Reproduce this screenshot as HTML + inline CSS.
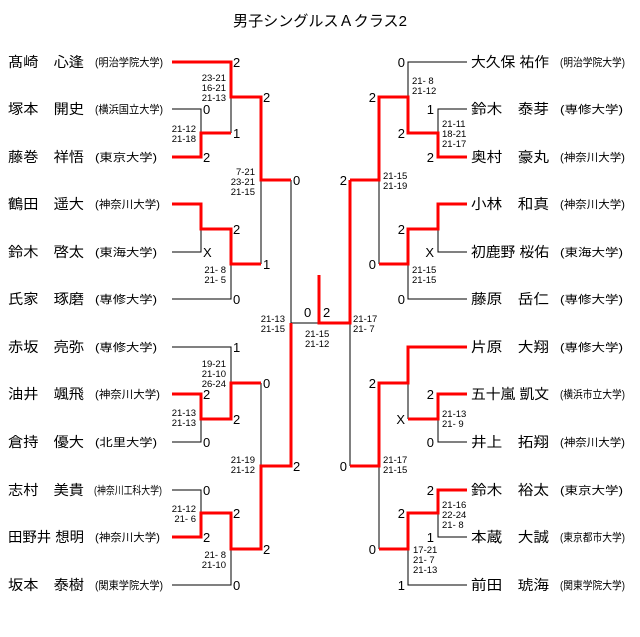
<!DOCTYPE html>
<html><head><meta charset="utf-8"><style>
html,body{margin:0;padding:0;background:#fff;}
svg{display:block;}
text{font-family:"Liberation Sans","Noto Sans CJK JP",sans-serif;fill:#000;}
.n{font-size:14px;}
.u{font-size:11px;}
.s{font-size:13px;}
.m{font-size:9.5px;}
.r{fill:none;stroke:#f00;stroke-width:3;}
.b{fill:none;stroke:#000;stroke-width:1;}
</style></head><body>
<svg width="640" height="637" viewBox="0 0 640 637" xmlns="http://www.w3.org/2000/svg">
<text x="320" y="26" font-size="15" text-anchor="middle" textLength="174" lengthAdjust="spacingAndGlyphs">男子シングルスＡクラス2</text>

<!-- left names -->
<g class="n">
<text x="8" y="67" textLength="76" lengthAdjust="spacingAndGlyphs">髙崎　心逢</text>
<text x="8" y="114" textLength="76" lengthAdjust="spacingAndGlyphs">塚本　開史</text>
<text x="8" y="162" textLength="76" lengthAdjust="spacingAndGlyphs">藤巻　祥悟</text>
<text x="8" y="209" textLength="76" lengthAdjust="spacingAndGlyphs">鶴田　遥大</text>
<text x="8" y="257" textLength="76" lengthAdjust="spacingAndGlyphs">鈴木　啓太</text>
<text x="8" y="304" textLength="76" lengthAdjust="spacingAndGlyphs">氏家　琢磨</text>
<text x="8" y="352" textLength="76" lengthAdjust="spacingAndGlyphs">赤坂　亮弥</text>
<text x="8" y="399" textLength="76" lengthAdjust="spacingAndGlyphs">油井　颯飛</text>
<text x="8" y="447" textLength="76" lengthAdjust="spacingAndGlyphs">倉持　優大</text>
<text x="8" y="495" textLength="76" lengthAdjust="spacingAndGlyphs">志村　美貴</text>
<text x="8" y="542" textLength="76" lengthAdjust="spacingAndGlyphs">田野井 想明</text>
<text x="8" y="590" textLength="76" lengthAdjust="spacingAndGlyphs">坂本　泰樹</text>
</g>
<g class="u">
<text x="95" y="66" textLength="68" lengthAdjust="spacingAndGlyphs">(明治学院大学)</text>
<text x="95" y="113" textLength="68" lengthAdjust="spacingAndGlyphs">(横浜国立大学)</text>
<text x="95" y="161" textLength="62" lengthAdjust="spacingAndGlyphs">(東京大学)</text>
<text x="95" y="208" textLength="65" lengthAdjust="spacingAndGlyphs">(神奈川大学)</text>
<text x="95" y="256" textLength="62" lengthAdjust="spacingAndGlyphs">(東海大学)</text>
<text x="95" y="303" textLength="62" lengthAdjust="spacingAndGlyphs">(専修大学)</text>
<text x="95" y="351" textLength="62" lengthAdjust="spacingAndGlyphs">(専修大学)</text>
<text x="95" y="398" textLength="65" lengthAdjust="spacingAndGlyphs">(神奈川大学)</text>
<text x="95" y="446" textLength="62" lengthAdjust="spacingAndGlyphs">(北里大学)</text>
<text x="94" y="494" textLength="68" lengthAdjust="spacingAndGlyphs">(神奈川工科大学)</text>
<text x="95" y="541" textLength="65" lengthAdjust="spacingAndGlyphs">(神奈川大学)</text>
<text x="95" y="589" textLength="68" lengthAdjust="spacingAndGlyphs">(関東学院大学)</text>
</g>

<!-- right names -->
<g class="n">
<text x="471" y="67" textLength="78" lengthAdjust="spacingAndGlyphs">大久保 祐作</text>
<text x="471" y="114" textLength="78" lengthAdjust="spacingAndGlyphs">鈴木　泰芽</text>
<text x="471" y="162" textLength="78" lengthAdjust="spacingAndGlyphs">奥村　豪丸</text>
<text x="471" y="209" textLength="78" lengthAdjust="spacingAndGlyphs">小林　和真</text>
<text x="471" y="257" textLength="78" lengthAdjust="spacingAndGlyphs">初鹿野 桜佑</text>
<text x="471" y="304" textLength="78" lengthAdjust="spacingAndGlyphs">藤原　岳仁</text>
<text x="471" y="352" textLength="78" lengthAdjust="spacingAndGlyphs">片原　大翔</text>
<text x="471" y="399" textLength="78" lengthAdjust="spacingAndGlyphs">五十嵐 凱文</text>
<text x="471" y="447" textLength="78" lengthAdjust="spacingAndGlyphs">井上　拓翔</text>
<text x="471" y="495" textLength="78" lengthAdjust="spacingAndGlyphs">鈴木　裕太</text>
<text x="471" y="542" textLength="78" lengthAdjust="spacingAndGlyphs">本蔵　大誠</text>
<text x="471" y="590" textLength="78" lengthAdjust="spacingAndGlyphs">前田　琥海</text>
</g>
<g class="u">
<text x="560" y="66" textLength="65" lengthAdjust="spacingAndGlyphs">(明治学院大学)</text>
<text x="560" y="113" textLength="63" lengthAdjust="spacingAndGlyphs">(専修大学)</text>
<text x="560" y="161" textLength="65" lengthAdjust="spacingAndGlyphs">(神奈川大学)</text>
<text x="560" y="208" textLength="65" lengthAdjust="spacingAndGlyphs">(神奈川大学)</text>
<text x="560" y="256" textLength="63" lengthAdjust="spacingAndGlyphs">(東海大学)</text>
<text x="560" y="303" textLength="63" lengthAdjust="spacingAndGlyphs">(専修大学)</text>
<text x="560" y="351" textLength="63" lengthAdjust="spacingAndGlyphs">(専修大学)</text>
<text x="560" y="398" textLength="65" lengthAdjust="spacingAndGlyphs">(横浜市立大学)</text>
<text x="560" y="446" textLength="65" lengthAdjust="spacingAndGlyphs">(神奈川大学)</text>
<text x="560" y="494" textLength="63" lengthAdjust="spacingAndGlyphs">(東京大学)</text>
<text x="560" y="541" textLength="65" lengthAdjust="spacingAndGlyphs">(東京都市大学)</text>
<text x="560" y="589" textLength="65" lengthAdjust="spacingAndGlyphs">(関東学院大学)</text>
</g>

<!-- left black lines -->
<path class="b" d="M172 109H201V157 M172 252H201V229 M231 97V133 M172 299H231V264 M261 180V264
M172 347H231V383 M172 442H201V419 M172 490H201V513 M172 585H231V549 M261 383V466
M291 180V323H350V466"/>
<!-- left red -->
<path class="r" d="M172 62H231V97H261V180H291 M172 157H201V133H231
M172 204H201V229H231V264H261
M172 394H201V419H231V383H261
M172 537H201V513H231V549H261V466H291V323
M319 275V323H350V180"/>

<!-- right black -->
<path class="b" d="M467 62H408V97 M467 109H438V133 M467 252H438V229 M467 299H408V264 M379 180V264
M408 383V419 M467 442H438V419 M467 537H438V513 M467 585H408V549 M379 466V549"/>
<path class="r" d="M467 157H438V133H408V97H379V180H350
M467 204H438V229H408V264H379
M467 347H408V383H379V466H350
M467 394H438V419H408
M467 490H438V513H408V549H379"/>

<!-- left scores -->
<g class="s">
<text x="233" y="67">2</text><text x="203" y="114">0</text><text x="203" y="162">2</text>
<text x="233" y="138">1</text><text x="263" y="102">2</text><text x="293" y="185">0</text>
<text x="233" y="234">2</text><text x="203" y="257">X</text><text x="263" y="269">1</text><text x="233" y="304">0</text>
<text x="233" y="352">1</text><text x="203" y="399">2</text><text x="203" y="447">0</text>
<text x="233" y="424">2</text><text x="263" y="388">0</text>
<text x="203" y="495">0</text><text x="203" y="542">2</text><text x="233" y="518">2</text>
<text x="263" y="554">2</text><text x="233" y="590">0</text><text x="293" y="471">2</text>
<text x="304" y="317">0</text><text x="323" y="317">2</text>
</g>
<g class="s" text-anchor="end">
<text x="405" y="67">0</text><text x="434" y="114">1</text><text x="434" y="162">2</text>
<text x="405" y="138">2</text><text x="376" y="102">2</text><text x="347" y="185">2</text>
<text x="405" y="234">2</text><text x="434" y="257">X</text><text x="376" y="269">0</text><text x="405" y="304">0</text>
<text x="376" y="388">2</text><text x="434" y="399">2</text><text x="405" y="424">X</text><text x="434" y="447">0</text>
<text x="434" y="495">2</text><text x="434" y="542">1</text><text x="405" y="518">2</text>
<text x="376" y="554">0</text><text x="405" y="590">1</text><text x="347" y="471">0</text>
</g>

<!-- small set scores -->
<g class="m" text-anchor="end">
<text x="226" y="81">23-21</text><text x="226" y="91">16-21</text><text x="226" y="101">21-13</text>
<text x="196" y="132">21-12</text><text x="196" y="142">21-18</text>
<text x="255" y="175">7-21</text><text x="255" y="185">23-21</text><text x="255" y="195">21-15</text>
<text x="226" y="273">21- 8</text><text x="226" y="283">21- 5</text>
<text x="285" y="322">21-13</text><text x="285" y="332">21-15</text>
<text x="226" y="367">19-21</text><text x="226" y="377">21-10</text><text x="226" y="387">26-24</text>
<text x="196" y="416">21-13</text><text x="196" y="426">21-13</text>
<text x="255" y="463">21-19</text><text x="255" y="473">21-12</text>
<text x="196" y="512">21-12</text><text x="196" y="522">21- 6</text>
<text x="226" y="558">21- 8</text><text x="226" y="568">21-10</text>
</g>
<g class="m">
<text x="305" y="337">21-15</text><text x="305" y="347">21-12</text>
<text x="353" y="322">21-17</text><text x="353" y="332">21- 7</text>
<text x="412" y="84">21- 8</text><text x="412" y="94">21-12</text>
<text x="442" y="127">21-11</text><text x="442" y="137">18-21</text><text x="442" y="147">21-17</text>
<text x="383" y="179">21-15</text><text x="383" y="189">21-19</text>
<text x="412" y="273">21-15</text><text x="412" y="283">21-15</text>
<text x="442" y="417">21-13</text><text x="442" y="427">21- 9</text>
<text x="383" y="463">21-17</text><text x="383" y="473">21-15</text>
<text x="442" y="508">21-16</text><text x="442" y="518">22-24</text><text x="442" y="528">21- 8</text>
<text x="413" y="553">17-21</text><text x="413" y="563">21- 7</text><text x="413" y="573">21-13</text>
</g>
</svg>
</body></html>
